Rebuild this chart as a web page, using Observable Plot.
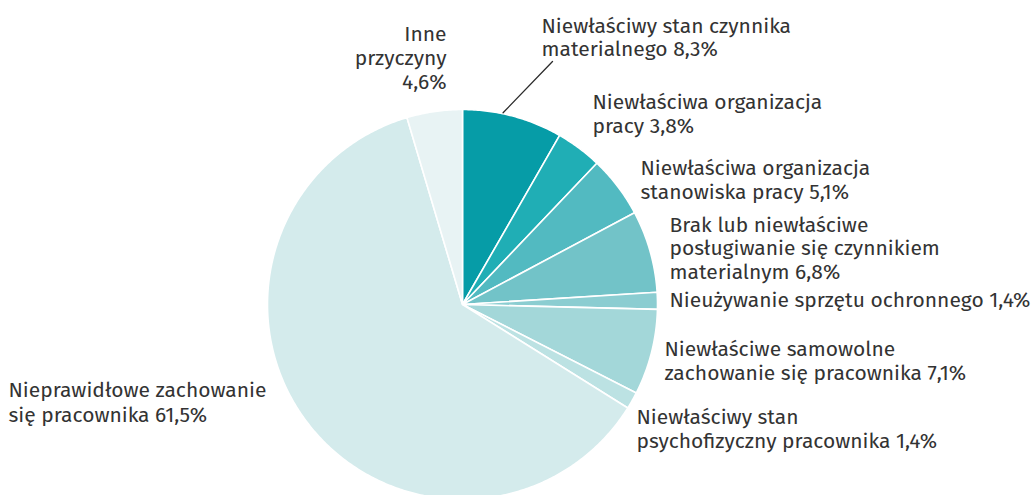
<!DOCTYPE html>
<html>
<head>
<meta charset="utf-8">
<script src="https://cdn.jsdelivr.net/npm/d3@7"></script>
<script src="https://cdn.jsdelivr.net/npm/@observablehq/plot@0.6"></script>
<style>
  html, body { margin: 0; padding: 0; background: #fff; }
  #chart svg { display: block; }
</style>
</head>
<body>
<div id="chart"></div>
<script>
// ---- data ----
const categories = [
  "Niewłaściwy stan czynnika materialnego",
  "Niewłaściwa organizacja pracy",
  "Niewłaściwa organizacja stanowiska pracy",
  "Brak lub niewłaściwe posługiwanie się czynnikiem materialnym",
  "Nieużywanie sprzętu ochronnego",
  "Niewłaściwe samowolne zachowanie się pracownika",
  "Niewłaściwy stan psychofizyczny pracownika",
  "Nieprawidłowe zachowanie się pracownika",
  "Inne przyczyny"
];
const values = [8.3, 3.8, 5.1, 6.8, 1.4, 7.1, 1.4, 61.5, 4.6];
const labelLines = [
  ["Niewłaściwy stan czynnika", "materialnego"],
  ["Niewłaściwa organizacja", "pracy"],
  ["Niewłaściwa organizacja", "stanowiska pracy"],
  ["Brak lub niewłaściwe", "posługiwanie się czynnikiem", "materialnym"],
  ["Nieużywanie sprzętu ochronnego"],
  ["Niewłaściwe samowolne", "zachowanie się pracownika"],
  ["Niewłaściwy stan", "psychofizyczny pracownika"],
  ["Nieprawidłowe zachowanie", "się pracownika"],
  ["Inne", "przyczyny", ""]
];

// ---- style / layout ----
const colors = ["#069ca7", "#20aeb5", "#52bac1", "#72c3c8", "#8bcdd1", "#a3d7d9", "#bce2e3", "#d4ebec", "#e8f3f4"];
const W = 1036, H = 495;
const cx = 462, cy = 304, R = 195;
const fontSize = 21;
// label anchors in pixels: x, first baseline y, anchor, line height
const labelLayout = [
  {x: 541, y: 32, anchor: "start", lh: 23.5},
  {x: 592, y: 108, anchor: "start", lh: 24},
  {x: 640, y: 174, anchor: "start", lh: 24},
  {x: 669, y: 231, anchor: "start", lh: 23.5},
  {x: 669, y: 306, anchor: "start", lh: 24},
  {x: 664, y: 355, anchor: "start", lh: 24},
  {x: 636, y: 423, anchor: "start", lh: 24},
  {x: 8, y: 396, anchor: "start", lh: 25.5},
  {x: 446, y: 40, anchor: "end", lh: 24}
];
const leader = {angleFrac: 0.40, endX: 552, endY: 61}; // leader line for first slice

// unit coordinates (y up) <-> pixels
const toU = (px) => (px - cx) / R;
const toV = (py) => (cy - py) / R;

const fmt = (v) => String(v.toFixed(1)).replace(".", ",") + "%";

// slices
const pie = d3.pie().sort(null).value(d => d)(values);
const slicePolys = pie.map((a, i) => {
  const pts = [{u: 0, v: 0}];
  const n = Math.max(4, Math.ceil((a.endAngle - a.startAngle) / 0.01));
  for (let k = 0; k <= n; k++) {
    const t = a.startAngle + (a.endAngle - a.startAngle) * k / n;
    pts.push({u: Math.sin(t), v: Math.cos(t)});
  }
  pts.push({u: 0, v: 0});
  return pts;
});

// label text rows
const textRows = [];
labelLines.forEach((lines, i) => {
  const L = labelLayout[i];
  lines.forEach((ln, j) => {
    let t = ln;
    if (j === lines.length - 1) t = (ln ? ln + " " : "") + fmt(values[i]);
    textRows.push({text: t, u: toU(L.x), v: toV(L.y + j * L.lh), anchor: L.anchor});
  });
});

// leader line
const a0 = pie[0];
const ang = a0.startAngle + (a0.endAngle - a0.startAngle) * leader.angleFrac;
const leaderPts = [
  {u: Math.sin(ang) * 1.005, v: Math.cos(ang) * 1.005},
  {u: toU(leader.endX), v: toV(leader.endY)}
];

const marks = [];
slicePolys.forEach((pts, i) => {
  marks.push(Plot.line(pts, {x: "u", y: "v", fill: colors[i], stroke: "#ffffff", strokeWidth: 1.6, strokeLinejoin: "round", curve: "linear"}));
});
marks.push(Plot.line(leaderPts, {x: "u", y: "v", stroke: "#2b2b2b", strokeWidth: 1.3}));
for (const anchor of ["start", "end"]) {
  marks.push(Plot.text(textRows.filter(d => d.anchor === anchor), {
    x: "u", y: "v", text: "text", textAnchor: anchor, lineAnchor: "bottom",
    fill: "#333333", fontSize: fontSize
  }));
}

const chart = Plot.plot({
  width: W, height: H,
  margin: 0,
  style: {fontFamily: "'Fira Sans', 'Noto Sans', sans-serif", background: "#ffffff"},
  x: {domain: [toU(0), toU(W)], range: [0, W], axis: null},
  y: {domain: [toV(H), toV(0)], range: [H, 0], axis: null},
  marks
});
document.getElementById("chart").appendChild(chart);
</script>
</body>
</html>
